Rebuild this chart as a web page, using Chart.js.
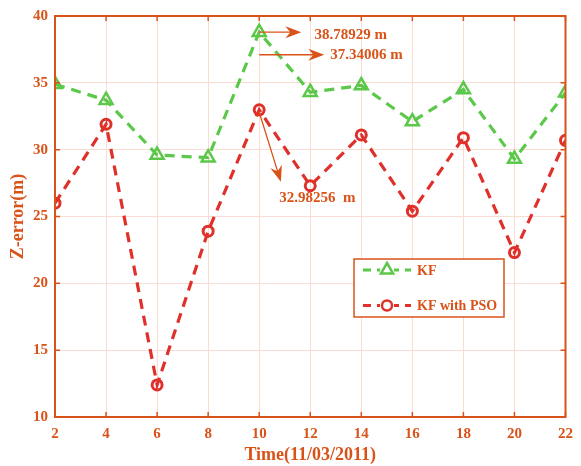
<!DOCTYPE html>
<html>
<head>
<meta charset="utf-8">
<script src="https://cdn.jsdelivr.net/npm/chart.js@4/dist/chart.umd.min.js"></script>
<style>
  html, body { margin: 0; padding: 0; background: #fff; }
  #wrap { width: 581px; height: 466px; }
</style>
</head>
<body>
<div id="wrap"><canvas id="canvas"></canvas></div>
<script>
// data
var times = [2, 4, 6, 8, 10, 12, 14, 16, 18, 20, 22];
var kf = [34.9, 33.7, 29.6, 29.4, 38.79, 34.3, 34.8, 32.1, 34.5, 29.3, 34.25];
var kfPso = [26.0, 31.9, 12.4, 23.9, 32.98, 27.3, 31.1, 25.4, 30.9, 22.3, 30.7];

// annotation arrows (data coords)
var noteText = ['38.78929 m', '37.34006 m', '32.98256  m'];
var noteFrom = [[10, 38.79], [10, 37.1], [10, 32.8]];
var noteTo = [[11.65, 38.79], [12.55, 37.1], [10.85, 27.6]];
var noteAt = [[12.17, 38.56], [12.78, 37.05], [12.28, 26.36]];
var noteAlign = ['left', 'left', 'center'];

var orange = '#D95319';
var green = '#5BC84A';
var red = '#E0302A';
var gridCol = '#F9DCD2';
var serif = '"Liberation Serif", "Times New Roman", serif';

function pts(ys) {
  return times.map(function (t, i) { return { x: t, y: ys[i] }; });
}

function arrow(ctx, x1, y1, x2, y2) {
  var a = Math.atan2(y2 - y1, x2 - x1);
  var len = 16, w = 6;
  ctx.beginPath();
  ctx.moveTo(x1, y1);
  ctx.lineTo(x2 - Math.cos(a) * 8, y2 - Math.sin(a) * 8);
  ctx.stroke();
  ctx.save();
  ctx.translate(x2, y2);
  ctx.rotate(a);
  ctx.beginPath();
  ctx.moveTo(0, 0);
  ctx.lineTo(-len, -w);
  ctx.lineTo(-len + 5, 0);
  ctx.lineTo(-len, w);
  ctx.closePath();
  ctx.fill();
  ctx.restore();
}

function marker(ctx, kind, x, y, col) {
  ctx.save();
  ctx.strokeStyle = col;
  ctx.fillStyle = col;
  ctx.lineWidth = 2.5;
  ctx.setLineDash([]);
  ctx.beginPath();
  if (kind == 'tri') {
    var r = 7;
    ctx.moveTo(x, y - r);
    ctx.lineTo(x + r * 0.87, y + r * 0.5);
    ctx.lineTo(x - r * 0.87, y + r * 0.5);
    ctx.closePath();
  } else {
    ctx.arc(x, y, 5, 0, Math.PI * 2);
  }
  ctx.stroke();
  ctx.restore();
}

var extras = {
  id: 'extras',
  afterDraw: function (chart) {
    var ctx = chart.ctx;
    var a = chart.chartArea;
    var xs = chart.scales.x, ys = chart.scales.y;
    ctx.save();
    // box
    ctx.strokeStyle = orange;
    ctx.lineWidth = 2;
    ctx.strokeRect(a.left, a.top, a.right - a.left, a.bottom - a.top);
    // inward ticks
    ctx.lineWidth = 1.5;
    ctx.beginPath();
    xs.ticks.forEach(function (t) {
      var px = xs.getPixelForValue(t.value);
      ctx.moveTo(px, a.bottom); ctx.lineTo(px, a.bottom - 5);
      ctx.moveTo(px, a.top); ctx.lineTo(px, a.top + 5);
    });
    ys.ticks.forEach(function (t) {
      var py = ys.getPixelForValue(t.value);
      ctx.moveTo(a.left, py); ctx.lineTo(a.left + 5, py);
      ctx.moveTo(a.right, py); ctx.lineTo(a.right - 5, py);
    });
    ctx.stroke();

    // annotations
    ctx.strokeStyle = orange;
    ctx.fillStyle = orange;
    ctx.lineWidth = 1.3;
    ctx.font = 'bold 15px ' + serif;
    ctx.textBaseline = 'middle';
    for (var i = 0; i < noteText.length; i++) {
      arrow(ctx,
        xs.getPixelForValue(noteFrom[i][0]), ys.getPixelForValue(noteFrom[i][1]),
        xs.getPixelForValue(noteTo[i][0]), ys.getPixelForValue(noteTo[i][1]));
      ctx.textAlign = noteAlign[i];
      ctx.fillText(noteText[i], xs.getPixelForValue(noteAt[i][0]), ys.getPixelForValue(noteAt[i][1]));
    }

    // legend box
    var lx = a.left + 299, ly = a.top + 243;
    ctx.fillStyle = '#fff';
    ctx.fillRect(lx, ly, 150, 58);
    ctx.strokeStyle = orange;
    ctx.lineWidth = 1.5;
    ctx.strokeRect(lx, ly, 150, 58);
    var rows = [['KF', green, 'tri', 11], ['KF with PSO', red, 'circ', 46.5]];
    rows.forEach(function (r) {
      var yy = ly + r[3];
      ctx.strokeStyle = r[1];
      ctx.lineWidth = 3;
      ctx.setLineDash([8, 6]);
      ctx.beginPath();
      ctx.moveTo(lx + 9, yy);
      ctx.lineTo(lx + 57, yy);
      ctx.stroke();
      ctx.setLineDash([]);
      ctx.fillStyle = '#fff';
      ctx.fillRect(lx + 26, yy - 8, 14, 16);
      marker(ctx, r[2], lx + 33, yy, r[1]);
      ctx.fillStyle = orange;
      ctx.textAlign = 'left';
      ctx.font = 'bold 14px ' + serif;
      ctx.fillText(r[0], lx + 63, yy + 1);
    });
    ctx.restore();
  }
};

var ctx = document.getElementById('canvas').getContext('2d');
var myChart = new Chart(ctx, {
  type: 'line',
  data: {
    datasets: [{
      label: 'KF',
      data: pts(kf),
      borderColor: green,
      backgroundColor: 'transparent',
      borderWidth: 3.2,
      borderDash: [10, 7],
      pointStyle: 'triangle',
      pointRadius: 7.5,
      pointBorderWidth: 2.5,
      pointBorderColor: green,
      pointBackgroundColor: 'rgba(0,0,0,0)',
      tension: 0
    }, {
      label: 'KF with PSO',
      data: pts(kfPso),
      borderColor: red,
      backgroundColor: 'transparent',
      borderWidth: 3.2,
      borderDash: [10, 7],
      pointStyle: 'circle',
      pointRadius: 5,
      pointBorderWidth: 3,
      pointBorderColor: red,
      pointBackgroundColor: 'rgba(0,0,0,0)',
      tension: 0
    }]
  },
  options: {
    responsive: true,
    maintainAspectRatio: false,
    animation: false,
    layout: { padding: { left: 0, right: 13, top: 13, bottom: 0 } },
    plugins: {
      legend: { display: false },
      tooltip: { enabled: false }
    },
    scales: {
      x: {
        type: 'linear',
        min: 2, max: 22,
        afterFit: function (s) { s.height = 49; },
        border: { display: false },
        grid: { color: gridCol, lineWidth: 1, drawTicks: false },
        ticks: {
          stepSize: 2, padding: 8, color: orange,
          font: { family: serif, size: 15, weight: 'bold' }
        },
        title: {
          display: true, text: 'Time(11/03/2011)', color: orange,
          font: { family: serif, size: 18, weight: 'bold' },
          padding: { top: 2, bottom: 0 }
        }
      },
      y: {
        min: 10, max: 40,
        afterFit: function (s) { s.width = 55; },
        border: { display: false },
        grid: { color: gridCol, lineWidth: 1, drawTicks: false },
        ticks: {
          stepSize: 5, padding: 7, color: orange,
          font: { family: serif, size: 15, weight: 'bold' }
        },
        title: {
          display: true, text: 'Z-error(m)', color: orange,
          font: { family: serif, size: 18, weight: 'bold' },
          padding: { top: 8, bottom: 0 }
        }
      }
    }
  },
  plugins: [extras]
});
</script>
</body>
</html>
